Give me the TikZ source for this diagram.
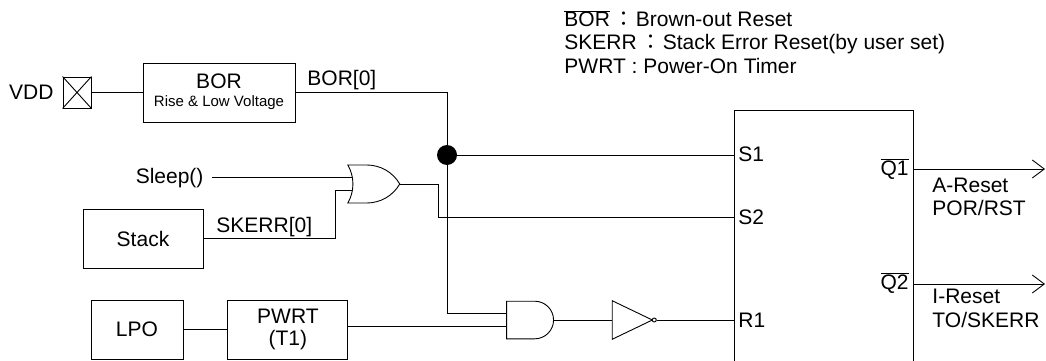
\documentclass[tikz,border=0pt]{standalone}
\usepackage{fontspec}
\setmainfont{Liberation Sans}
\newfontfamily\cjk{Noto Sans CJK TC}
\usepackage{tikz}
\usetikzlibrary{positioning}
\usetikzlibrary{arrows.meta}
\usetikzlibrary{shapes.gates.logic.US}
\tikzset{%
  blk/.style={rectangle,draw,align=center,font=\fontsize{21}{22}\selectfont}
}
\tikzset{%
  gate/.style={draw,logic gate inputs=nn}
}
\tikzset{%
  outarr/.style={-{Straight Barb[length=12pt,width=18pt]}}
}
\newcommand\ovl[1]{$\overline{\hbox{#1}}$}
\newcommand\wcolon{{\cjk\kern4pt ：\kern1pt}}
\newcommand\smalltxt{\fontsize{15}{16}\selectfont}
\newcommand\legtxt{\fontsize{21}{23}\selectfont}

\begin{document}
\begin{tikzpicture}[x=1pt,y=-1pt,inner sep=0pt,line width=0.9pt,font=\fontsize{21}{22}\selectfont]
        \useasboundingbox (0,0) rectangle (1046,361);
        % legend
        \node[anchor=base west,font=\legtxt](leg1) at (564,27){\ovl{BOR}\wcolon Brown-out Reset};
        \node[anchor=base west,font=\legtxt](leg2) at (564,50){SKERR\wcolon Stack Error Reset(by user set)};
        \node[anchor=base west,font=\legtxt](leg3) at (564,74){PWRT : Power-On Timer};

        % brown-out path
        \node[anchor=east](vdd) at (54,92){VDD};
        \node[blk,minimum width=28pt,minimum height=31pt](pad) at (77,92.5){};
        \draw (pad.north west) -- (pad.south east) (pad.north east) -- (pad.south west);
        \node[blk,minimum width=152pt,minimum height=59pt](bor) at (219,92.5){};
        \node(bortop) at (219,81){BOR};
        \node[font=\smalltxt](borsub) at (219,103){Rise \& Low Voltage};
        \draw (pad) -- (bor);
        \node[circle,fill,minimum size=20pt](dot) at (447,155){};
        \draw (bor.east) -| (dot);
        \node[anchor=base west](borlab) at (307,85){BOR[0]};

        % reset block
        \node[blk,minimum width=179pt,minimum height=270pt,anchor=north west](ctrl) at (734,110){};
        \node[anchor=west](pins1) at (738,154){S1};
        \node[anchor=west](pins2) at (738,217){S2};
        \node[anchor=west](pinr1) at (738,320){R1};
        \node[anchor=base east](pinq1) at (909,175){\ovl{Q1}};
        \node[anchor=base east](pinq2) at (909,289){\ovl{Q2}};
        \draw (dot) -- (dot -| ctrl.west);

        % sleep / stack
        \node[gate,or gate US,minimum width=46pt,minimum height=38pt](org) at (370,184){};
        \node[left=140pt of org.input 1,inner xsep=8pt](sleep){Sleep()};
        \draw (sleep) -- (org.input 1);
        \node[blk,minimum width=120pt,minimum height=59pt](stack) at (143,238.5){Stack};
        \coordinate(skbend) at (335,240);
        \draw (stack.east) -- (stack.east -| skbend) |- (org.input 2);
        \node[anchor=base west](sklab) at (216,232){SKERR[0]};
        \coordinate(s2bend) at (438,217);
        \draw (org.output) -| (s2bend) -- (s2bend -| ctrl.west);

        % power-on timer
        \node[blk,minimum width=92pt,minimum height=59pt](lpo) at (137,329.5){LPO};
        \node[blk,minimum width=120pt,minimum height=59pt,right=44pt of lpo](pwrt){PWRT\\(T1)};
        \draw (lpo) -- (pwrt);
        \node[gate,and gate US,minimum width=47pt,minimum height=35pt](andg) at (528.5,320){};
        \draw (dot) |- (andg.input 1);
        \draw (pwrt.east |- andg.input 2) -- (andg.input 2);
        \node[draw,not gate US,minimum width=40pt,minimum height=33pt](inv) at (626,320){};
        \draw (andg.output) -- (inv.input);
        \draw (inv.output) -- (inv.output -| ctrl.west);

        % outputs
        \coordinate(q1end) at (1045,169);
        \coordinate(q2end) at (1045,284);
        \draw[outarr] (ctrl.east |- q1end) -- (q1end);
        \draw[outarr] (ctrl.east |- q2end) -- (q2end);
        \node[anchor=base west](q1a) at (932,192){A-Reset};
        \node[anchor=base west](q1b) at (932,215){POR/RST};
        \node[anchor=base west](q2a) at (932,303){I-Reset};
        \node[anchor=base west](q2b) at (932,327){TO/SKERR};
      \end{tikzpicture}
\end{document}
